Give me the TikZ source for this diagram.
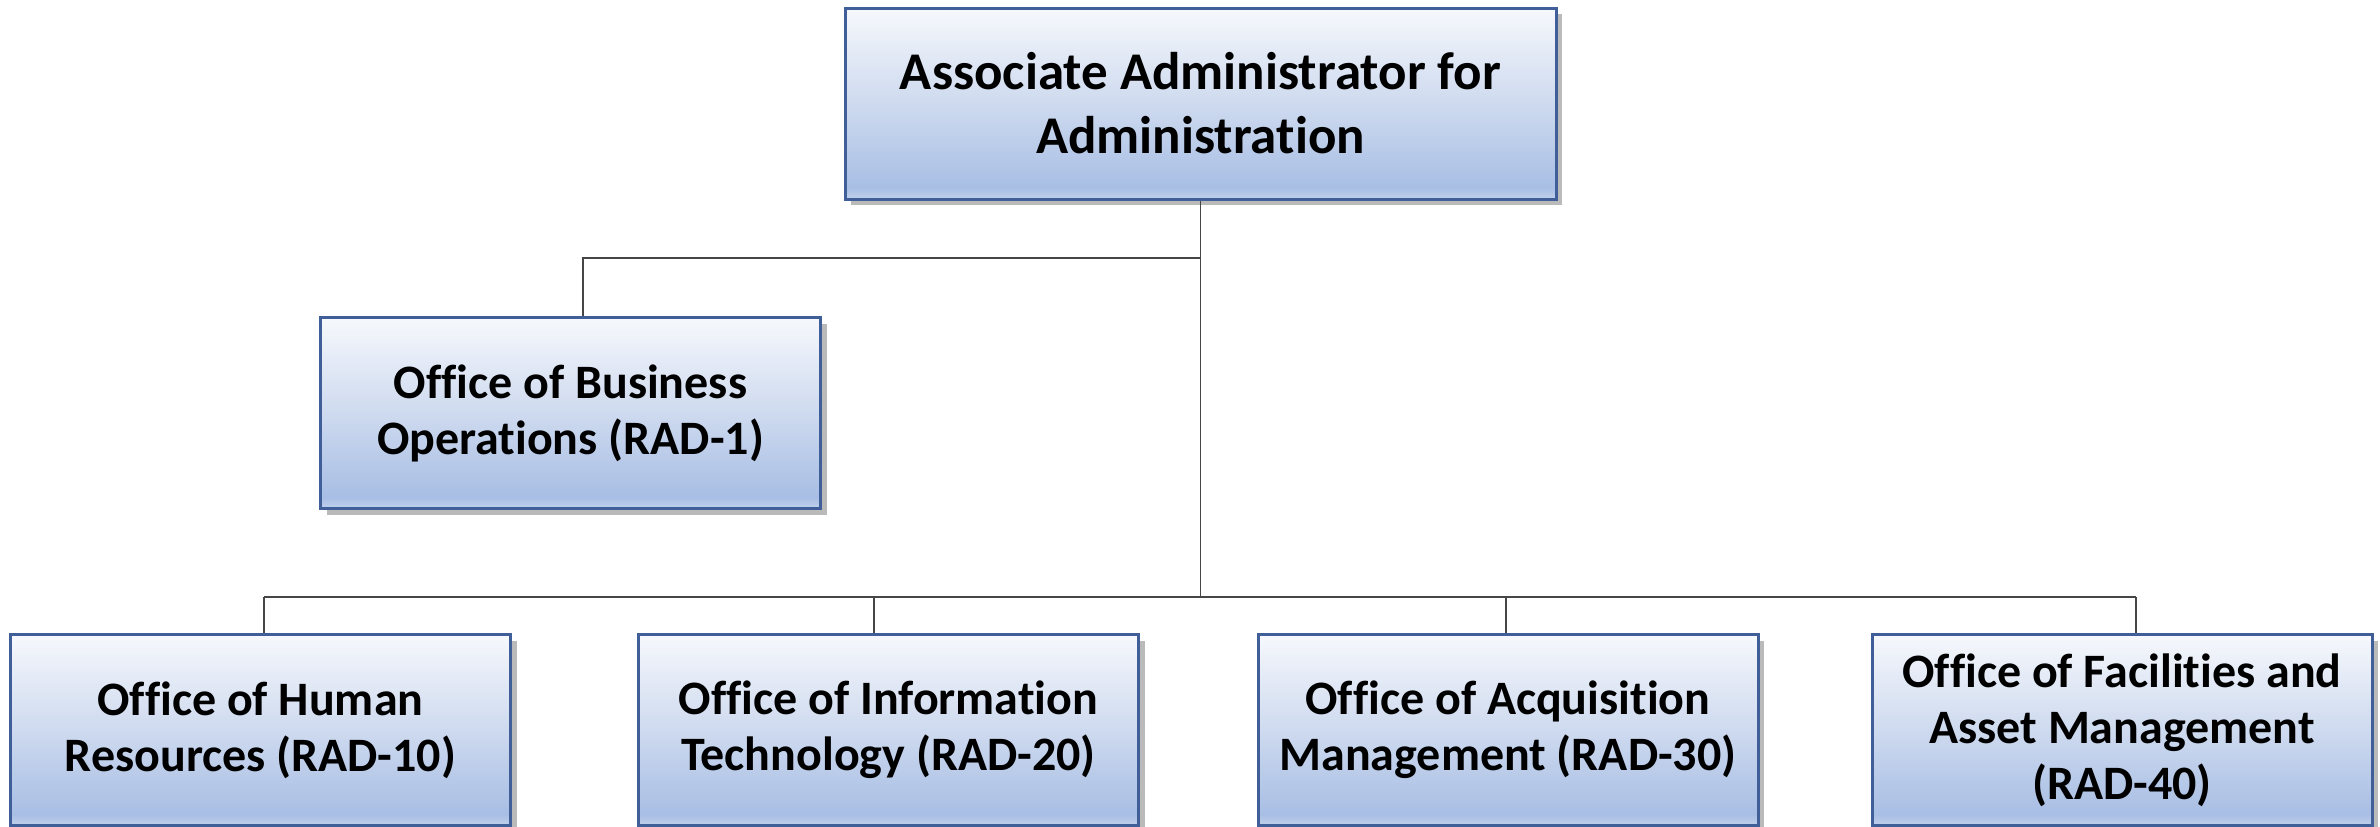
\documentclass[tikz,border=0pt]{standalone}
\usepackage{fontspec}
\setmainfont{Carlito}[Ligatures=NoCommon]
\usetikzlibrary{shadows}
\definecolor{boxedge}{RGB}{64,94,152}
\definecolor{boxtop}{RGB}{246,248,252}
\definecolor{boxmid}{RGB}{206,218,239}
\definecolor{boxlow}{RGB}{168,190,228}
\definecolor{boxrim}{RGB}{192,207,236}
\definecolor{wirecol}{RGB}{70,70,70}
% bottom rim, body gradient, top
\pgfdeclareverticalshading{boxshade}{100bp}{color(0bp)=(boxrim); color(25bp)=(boxrim); color(28bp)=(boxlow); color(50bp)=(boxmid); color(75bp)=(boxtop); color(100bp)=(boxtop)}
\tikzset{
  unitbox/.style={draw=boxedge, line width=1.5pt, shading=boxshade, align=center,
    inner sep=0pt, minimum width=250pt, minimum height=95.5pt,
    font=\bfseries\fontsize{24}{28}\selectfont,
    drop shadow={shadow xshift=3pt, shadow yshift=-3pt, fill=black!60, opacity=0.45}},
  headbox/.style={unitbox, minimum width=355.5pt, font=\bfseries\fontsize{26.5}{32}\selectfont},
  wire/.style={draw=wirecol, line width=0.75pt}
}
\begin{document}
\begin{tikzpicture}[x=0.5pt,y=-0.5pt]
  \useasboundingbox (0,0) rectangle (2380,826);
  % boxes
  \node[headbox] (aaa) at (1200.5,103.5) {Associate Administrator for\\Administration};
  \node[unitbox] (obo) at (570.5,413) {Office of Business\\Operations (RAD-1)};
  \node[unitbox] (ohr) at (260.5,730) {Office of Human\\Resources (RAD-10)};
  \node[unitbox] (oit) at (888.5,730) {Office of Information\\Technology (RAD-20)};
  \node[unitbox] (oam) at (1508,730) {Office of Acquisition\\Management (RAD-30)};
  \node[unitbox] (ofam) at (2122,730) {Office of Facilities and\\Asset Management\\(RAD-40)};
  % connector points
  \coordinate (opsturn) at (583,258);
  \coordinate (hrdrop) at (264,597);
  \coordinate (itdrop) at (874,597);
  \coordinate (amdrop) at (1506,597);
  \coordinate (fadrop) at (2136,597);
  \draw[wire] (aaa.south) -- (aaa.south |- hrdrop);
  \draw[wire] (aaa.south |- opsturn) -- (opsturn) -- (opsturn |- obo.north);
  \draw[wire] (hrdrop) -- (fadrop);
  \foreach \d/\b in {hrdrop/ohr, itdrop/oit, amdrop/oam, fadrop/ofam}
    \draw[wire] (\d) -- (\d |- \b.north);
\end{tikzpicture}
\end{document}
